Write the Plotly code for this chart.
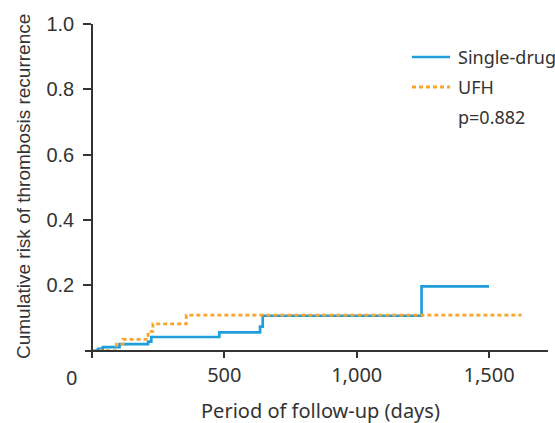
import plotly.graph_objects as go

# ---- data ----
single_days = [0, 23, 41, 104, 212, 224, 481, 635, 645, 1245, 1500]
single_risk = [0, 0.006, 0.011, 0.020, 0.028, 0.042, 0.056, 0.074, 0.107, 0.197, 0.197]
ufh_days = [0, 92, 117, 212, 230, 356, 1623]
ufh_risk = [0, 0.020, 0.035, 0.059, 0.082, 0.109, 0.109]

y_ticks = [0.2, 0.4, 0.6, 0.8, 1.0]
y_tick_labels = ["0.2", "0.4", "0.6", "0.8", "1.0"]
x_ticks = [500, 1000, 1500]
x_tick_labels = ["500", "1,000", "1,500"]

series_names = ["Single-drug", "UFH"]
p_text = "p=0.882"

BLUE = "#1f9ed9"
ORANGE = "#f9a52b"
AX = "#333333"

W, H = 555, 423
L, R, T, B = 85, 7, 24, 65
PW, PH = W - L - R, H - T - B
XR = [-26.4, 1722.7]
YR = [-0.0223, 1.0]


def px(x):
    return (x - L) / PW


def py(y):
    return (H - B - y) / PH


fig = go.Figure()
fig.add_trace(go.Scatter(x=single_days, y=single_risk, mode="lines",
                         line=dict(shape="hv", color=BLUE, width=2.7),
                         name=series_names[0], showlegend=False))
fig.add_trace(go.Scatter(x=ufh_days, y=ufh_risk, mode="lines",
                         line=dict(shape="hv", color=ORANGE, width=2.8, dash="4px,3px"),
                         name=series_names[1], showlegend=False))

fig.update_layout(
    width=W, height=H,
    margin=dict(l=L, r=R, t=T, b=B),
    paper_bgcolor="white", plot_bgcolor="white",
    showlegend=False,
    xaxis=dict(range=XR, anchor="free", position=(0 - YR[0]) / (YR[1] - YR[0]),
               showgrid=False, zeroline=False, showline=True, linecolor=AX, linewidth=1.5,
               ticks="outside", ticklen=7, tickwidth=1.5, tickcolor=AX,
               tickvals=x_ticks, ticktext=x_tick_labels,
               tickfont=dict(family="Noto Sans", size=20, color=AX)),
    yaxis=dict(range=YR, anchor="free", position=(0 - XR[0]) / (XR[1] - XR[0]),
               showgrid=False, zeroline=False, showline=True, linecolor=AX, linewidth=1.5,
               ticks="outside", ticklen=8, tickwidth=1.5, tickcolor=AX,
               tickvals=y_ticks, ticktext=y_tick_labels, ticklabelstandoff=5,
               tickfont=dict(family="Liberation Sans, Arial", size=20, color=AX)),
)

ann = []
# origin label
ann.append(dict(x=px(71), y=py(377), xref="paper", yref="paper", text="0", showarrow=False,
                xanchor="center", yanchor="middle",
                font=dict(family="Noto Sans", size=20, color=AX)))
# axis titles
ann.append(dict(x=px(320), y=py(410), xref="paper", yref="paper",
                text="Period of follow-up (days)", showarrow=False,
                xanchor="center", yanchor="middle",
                font=dict(family="Noto Sans", size=20, color=AX)))
ann.append(dict(x=px(23), y=py(187), xref="paper", yref="paper",
                text="Cumulative risk of thrombosis recurrence", showarrow=False,
                textangle=-90, xanchor="center", yanchor="middle",
                font=dict(family="Liberation Sans, Arial", size=19, color=AX)))
# legend texts
for label, yy in [(series_names[0], 57), (series_names[1], 87), (p_text, 117)]:
    ann.append(dict(x=px(456), y=py(yy), xref="paper", yref="paper", text=label,
                    showarrow=False, xanchor="left", yanchor="middle",
                    font=dict(family="Noto Sans", size=18, color=AX)))
fig.update_layout(annotations=ann)

# legend line samples
fig.add_shape(type="line", xref="paper", yref="paper", x0=px(412), x1=px(450), y0=py(57), y1=py(57),
              line=dict(color=BLUE, width=2.7))
fig.add_shape(type="line", xref="paper", yref="paper", x0=px(412), x1=px(450), y0=py(87), y1=py(87),
              line=dict(color=ORANGE, width=2.8, dash="4px,3px"))

fig.write_html("out.html", config={"displayModeBar": False},
               post_script="document.body.style.margin='0';document.body.style.overflow='hidden';")
